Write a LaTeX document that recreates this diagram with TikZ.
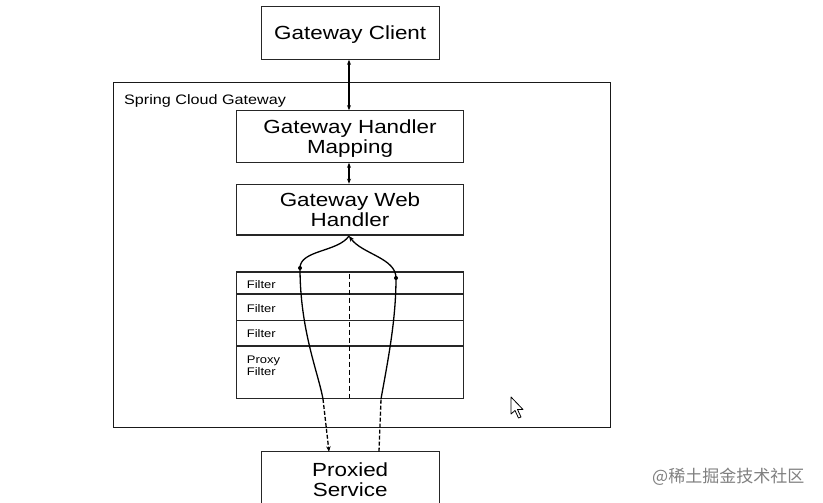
\documentclass[tikz,border=0pt]{standalone}
\usepackage{fontspec}
\setmainfont{Liberation Sans}[FakeStretch=1.18]
\newfontfamily\cjkwm{Noto Sans CJK SC}
\usetikzlibrary{arrows.meta}
\begin{document}
\begin{tikzpicture}[x=1pt,y=-1pt,
  box/.style={draw=black!85, line width=1.1pt, rectangle, inner sep=0pt, align=center,
    text depth=0pt, font=\fontsize{19}{20}\selectfont},
  fbox/.style={draw=black!85, line width=1.1pt, rectangle, inner sep=0pt, minimum width=226.6pt},
  flabel/.style={anchor=west, inner sep=0pt, align=left, font=\fontsize{11}{11.7}\selectfont},
  link/.style={line width=1.1pt, {Stealth[length=5pt,width=4pt]}-{Stealth[length=5pt,width=4pt]}},
  flow/.style={line width=1.3pt},
  tip/.style={-{Stealth[length=5.5pt,width=4.5pt]}},
  brk/.style={dash pattern=on 4pt off 2pt}
]
\useasboundingbox (0,0) rectangle (823,503);
\fill[white] (0,0) rectangle (823,503);

% outer container
\node[draw=black!90, line width=1.1pt, rectangle, inner sep=0pt,
      minimum width=497.4pt, minimum height=345pt] (scg) at (362,255.2) {};
\node[anchor=west, inner sep=0pt, font=\fontsize{13.7}{14}\selectfont] (scgl) at (124,100.5) {Spring Cloud Gateway};

% main boxes
\node[box, minimum width=178.3pt, minimum height=52.6pt] (cl) at (350.2,33) {Gateway Client};
\node[box, minimum width=226.6pt, minimum height=51.6pt] (hm) at (350,136.5) {Gateway Handler\\Mapping};
\node[box, minimum width=226.6pt, minimum height=50.7pt] (wh) at (350,209.6) {Gateway Web\\Handler};
\node[box, minimum width=178.3pt, minimum height=56pt] (ps) at (350.2,479.7) {Proxied\\Service};

% filter stack
\node[fbox, minimum height=22pt] (f1) at (350,283) {};
\node[fbox, minimum height=26.7pt] (f2) at (350,307.35) {};
\node[fbox, minimum height=25.3pt] (f3) at (350,333.35) {};
\node[fbox, minimum height=52.5pt] (f4) at (350,372.25) {};
\node[flabel] (l1) at (246.7,285) {Filter};
\node[flabel] (l2) at (246.7,308.3) {Filter};
\node[flabel] (l3) at (246.7,334) {Filter};
\node[flabel] (l4) at (246.7,366) {Proxy\\Filter};

% arrows between boxes
\draw[link] (cl.south -| 349,0) -- (hm.north -| 349,0);
\draw[link] (hm.south -| 349,0) -- (wh.north -| 349,0);

% dashed middle line
\coordinate (mt) at (349,273.5);
\coordinate (mb) at (349,398);
\draw[line width=1pt, dash pattern=on 5pt off 3pt] (mt) -- (mb);

% request / response curves
\coordinate (apex) at (349,236);
\coordinate (dl) at (300,268);
\coordinate (dr) at (396,278);
\coordinate (lb) at (323,399);
\coordinate (rb) at (381,399);
\coordinate (le) at (329,451.7);
\coordinate (re) at (379,451.7);

\draw[flow] (apex) .. controls (338,252) and (300,250) .. (dl)
            .. controls (300,330) and (318,372) .. (lb);
\draw[flow, brk, tip] (lb) -- (le);
\draw[flow, brk] (re) -- (rb);
\draw[flow, tip] (rb) .. controls (388,360) and (396,320) .. (dr)
            .. controls (396,258) and (362,254) .. (apex);
\fill (dl) circle (2pt);
\fill (dr) circle (2pt);

% mouse cursor
\draw[fill=white, line width=0.8pt, line join=round]
  (511,397) -- (511,414) -- (515,410.5) -- (518.5,418) -- (521,417) -- (517.5,409.5) -- (523,409.5) -- cycle;

% watermark
\node[anchor=west, inner sep=0pt, text=black!50, font=\cjkwm\fontsize{17}{17}\selectfont] (wm) at (652,477) {@稀土掘金技术社区};
\end{tikzpicture}
\end{document}
